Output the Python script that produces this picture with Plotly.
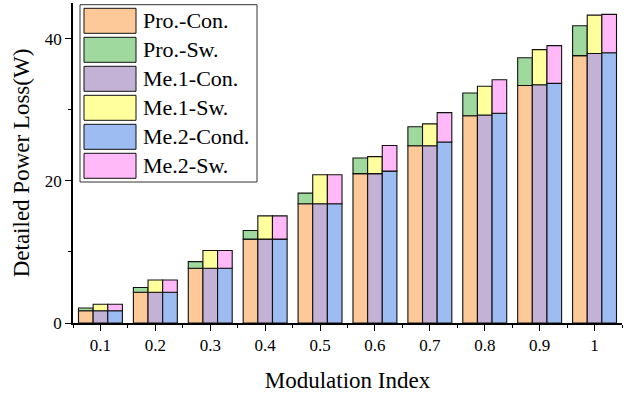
import plotly.graph_objects as go

# ---- data ----
mod_index = ['0.1', '0.2', '0.3', '0.4', '0.5', '0.6', '0.7', '0.8', '0.9', '1']

pro_con = [1.73, 4.32, 7.70, 11.80, 16.76, 21.00, 24.93, 29.15, 33.40, 37.60]
pro_sw = [0.37, 0.68, 0.93, 1.20, 1.51, 2.20, 2.67, 3.20, 3.90, 4.20]
me1_con = [1.73, 4.32, 7.70, 11.80, 16.76, 21.00, 24.93, 29.25, 33.50, 37.90]
me1_sw = [0.90, 1.73, 2.50, 3.27, 4.09, 2.40, 3.07, 4.05, 4.95, 5.40]
me2_con = [1.73, 4.32, 7.70, 11.80, 16.76, 21.36, 25.45, 29.50, 33.70, 38.00]
me2_sw = [0.90, 1.73, 2.50, 3.27, 4.09, 3.61, 4.13, 4.70, 5.30, 5.40]

series_names = ['Pro.-Con.', 'Pro.-Sw.', 'Me.1-Con.', 'Me.1-Sw.', 'Me.2-Cond.', 'Me.2-Sw.']
series_colors = ['#FDC998', '#A0D99D', '#C3B2D6', '#FFFF9E', '#9CBCF2', '#FFB8F8']

FONT = 'Liberation Serif'
W, H = 630, 395
ML, MR, MT, MB = 73, 8, 3, 72
PW, PH = W - ML - MR, H - MT - MB

x = list(range(len(mod_index)))

groups = [
    ('pro', pro_con, pro_sw),
    ('me1', me1_con, me1_sw),
    ('me2', me2_con, me2_sw),
]

fig = go.Figure()
k = 0
for gname, con, sw in groups:
    fig.add_trace(go.Bar(
        x=x, y=con, name=series_names[k], offsetgroup=gname,
        marker=dict(color=series_colors[k], line=dict(color='#111111', width=1.1)),
        showlegend=False))
    fig.add_trace(go.Bar(
        x=x, y=sw, base=con, name=series_names[k + 1], offsetgroup=gname,
        marker=dict(color=series_colors[k + 1], line=dict(color='#111111', width=1.1)),
        showlegend=False))
    k += 2


def px_x(px):
    return (px - ML) / PW


def px_y(py):
    return (H - MB - py) / PH


# ---- legend drawn as a layout element (big swatches like the reference) ----
shapes = [dict(type='rect', xref='paper', yref='paper',
               x0=px_x(80), x1=px_x(257), y0=px_y(182), y1=px_y(4.7),
               line=dict(color='#333333', width=1), fillcolor='white', layer='above')]
annotations = []
for i, (nm, col) in enumerate(zip(series_names, series_colors)):
    top = 8.3 + 29 * i
    shapes.append(dict(type='rect', xref='paper', yref='paper',
                       x0=px_x(84), x1=px_x(136), y0=px_y(top + 25), y1=px_y(top),
                       line=dict(color='#111111', width=1), fillcolor=col, layer='above'))
    annotations.append(dict(xref='paper', yref='paper', x=px_x(141), y=px_y(top + 12.5),
                            text=nm, showarrow=False, xanchor='left', yanchor='middle',
                            font=dict(family=FONT, size=22, color='black')))

fig.update_layout(
    width=W, height=H,
    margin=dict(l=ML, r=MR, t=MT, b=MB),
    paper_bgcolor='white', plot_bgcolor='white',
    barmode='group', bargap=0.2, bargroupgap=0,
    font=dict(family=FONT, color='black'),
    shapes=shapes, annotations=annotations,
    showlegend=False,
)

fig.update_xaxes(
    range=[-0.5, len(mod_index) - 0.5],
    tickmode='array', tickvals=x, ticktext=mod_index,
    ticks='outside', ticklen=6, tickwidth=1.3, tickcolor='black',
    minor=dict(ticks='outside', ticklen=3.5, tick0=-0.5, dtick=1, tickcolor='black', tickwidth=1.3),
    showline=True, linecolor='black', linewidth=1.5,
    showgrid=False, zeroline=False,
    tickfont=dict(family=FONT, size=17),
    title=dict(text='Modulation Index', font=dict(family=FONT, size=23), standoff=18),
)

fig.update_yaxes(
    range=[0, 45],
    tickmode='linear', tick0=0, dtick=20,
    ticks='outside', ticklen=6, tickwidth=1.3, tickcolor='black',
    minor=dict(ticks='outside', ticklen=3.5, dtick=10, tickcolor='black', tickwidth=1.3),
    showline=True, linecolor='black', linewidth=1.5,
    showgrid=False, zeroline=False,
    tickfont=dict(family=FONT, size=17),
    title=dict(text='Detailed Power Loss(W)', font=dict(family=FONT, size=23), standoff=9),
)

fig.write_html('out.html',
               config={'displayModeBar': False},
               post_script="document.body.style.margin='0';document.body.style.padding='0';")
